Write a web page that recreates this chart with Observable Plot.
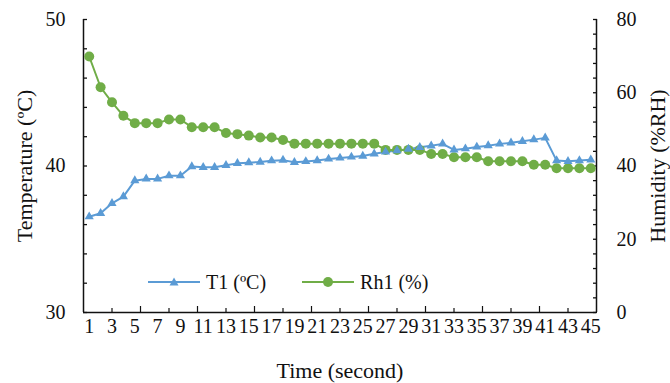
<!DOCTYPE html>
<html>
<head>
<meta charset="utf-8">
<script src="https://cdn.jsdelivr.net/npm/d3@7"></script>
<script src="https://cdn.jsdelivr.net/npm/@observablehq/plot@0.6"></script>
<style>
  html, body { margin: 0; padding: 0; background: #fff; }
  #wrap { position: relative; width: 670px; height: 383px; font-family: "Liberation Serif", "Times New Roman", serif; color: #111; }
  #legend { position: absolute; left: 148px; top: 270px; display: flex; align-items: center; font-size: 20px; line-height: 24px; white-space: nowrap; }
  #legend .item { display: flex; align-items: center; }
  #legend .item + .item { margin-left: 36px; }
  #legend svg { display: block; margin-right: 6px; }
</style>
</head>
<body>
<div id="wrap">
  <div id="chart"></div>
  <div id="legend"></div>
</div>
<script>
// Categories (time in seconds)
const time = [1,2,3,4,5,6,7,8,9,10,11,12,13,14,15,16,17,18,19,20,21,22,23,24,25,26,27,28,29,30,31,32,33,34,35,36,37,38,39,40,41,42,43,44,45];
// T1 (°C), left axis
const t1 = [36.54,36.77,37.45,37.91,39.0,39.12,39.12,39.34,39.34,39.96,39.91,39.91,
            40.05,40.18,40.23,40.27,40.36,40.4,40.25,40.31,40.37,40.48,40.55,40.62,
            40.68,40.83,40.96,41.05,41.15,41.28,41.38,41.51,41.1,41.18,41.3,
            41.39,41.51,41.58,41.69,41.8,41.92,40.37,40.32,40.37,40.42];
// Rh1 (%), right axis
const rh1 = [69.9,61.5,57.4,53.7,51.7,51.7,51.7,52.7,52.7,50.6,50.6,50.6,
             49.0,48.7,48.3,47.8,47.8,47.1,46.1,46.1,46.1,46.1,46.1,46.1,46.1,46.1,
             44.4,44.4,44.4,44.4,43.3,43.3,42.4,42.4,42.4,
             41.3,41.3,41.3,41.3,40.35,40.35,39.4,39.4,39.4,39.4];

// Tick labels
const xTickLabels = [1,3,5,7,9,11,13,15,17,19,21,23,25,27,29,31,33,35,37,39,41,43,45];
const tempTickLabels = [30,40,50];
const rhTickLabels = [0,20,40,60,80];
const tempTickMarks = [30,32,34,36,38,40,42,44,46,48,50];
const rhTickMarks = [0,4,8,12,16,20,24,28,32,36,40,44,48,52,56,60,64,68,72,76,80];
const xMajorTicks = [5.5,10.5,15.5,20.5,25.5,30.5,35.5,40.5];
const xMinorTicks = [3,8,13,18,23,28,33,38,43];

const seriesNames = ["T1 (ºC)", "Rh1 (%)"];
const axisTitles = {left: "Temperature (ºC)", right: "Humidity (%RH)", bottom: "Time (second)"};
const colors = ["#5B9BD5", "#70AD47"];

// Humidity range [0,80] shares the frame with temperature [30,50]
const rhToT = rh => 30 + rh / 4;

const data = time.map((t, i) => ({time: t, t1: t1[i], rh1: rh1[i], rhT: rhToT(rh1[i])}));

const ink = "#111";
const font = "'Liberation Serif', 'Times New Roman', serif";

const chart = Plot.plot({
  width: 670,
  height: 383,
  marginLeft: 83,
  marginRight: 74,
  marginTop: 19,
  marginBottom: 71,
  x: {domain: [0.5, 45.5], axis: null, label: null},
  y: {domain: [30, 50], axis: null, label: null},
  style: {fontFamily: font, fontSize: "20px", color: ink, background: "#fff", overflow: "visible"},
  marks: [
    // inward tick marks
    Plot.axisY(tempTickMarks, {anchor: "left", label: null, tickSize: -4, tickFormat: () => "", stroke: ink, strokeWidth: 1.3}),
    Plot.axisY(rhTickMarks.map(rhToT), {anchor: "right", label: null, tickSize: -4, tickFormat: () => "", stroke: ink, strokeWidth: 1.3}),
    Plot.axisX(xMajorTicks, {anchor: "bottom", label: null, tickSize: -6, tickFormat: () => "", stroke: ink, strokeWidth: 1.2}),
    Plot.axisX(xMinorTicks, {anchor: "bottom", label: null, tickSize: -4, tickFormat: () => "", stroke: ink, strokeWidth: 1.2}),
    // tick labels
    Plot.axisY(tempTickLabels, {anchor: "left", label: null, tickSize: 0, tickPadding: 18, fontSize: 20, fill: ink}),
    Plot.axisY(rhTickLabels.map(rhToT), {anchor: "right", label: null, tickSize: 0, tickPadding: 20, fontSize: 20, fill: ink,
      tickFormat: d => String(Math.round((d - 30) * 4))}),
    Plot.axisX(xTickLabels, {anchor: "bottom", label: null, tickSize: 0, tickPadding: 6, fontSize: 20, fill: ink}),
    // spines
    Plot.ruleX([0.5, 45.5], {stroke: ink, strokeWidth: 1.5}),
    Plot.ruleY([30], {stroke: ink, strokeWidth: 1.5}),
    // series
    Plot.line(data, {x: "time", y: "t1", stroke: colors[0], strokeWidth: 2}),
    Plot.line(data, {x: "time", y: "rhT", stroke: colors[1], strokeWidth: 2}),
    Plot.dot(data, {x: "time", y: "rhT", r: 5, fill: colors[1], stroke: "none"}),
    Plot.dot(data, {x: "time", y: "t1", r: 3.4, symbol: "triangle", fill: colors[0], stroke: "none"}),
    // axis titles
    Plot.text([axisTitles.left], {frameAnchor: "left", dx: -59, rotate: -90, textAnchor: "middle", lineAnchor: "middle", fontSize: 22, fill: ink}),
    Plot.text([axisTitles.right], {frameAnchor: "right", dx: 61, rotate: -90, textAnchor: "middle", lineAnchor: "middle", fontSize: 22, fill: ink}),
    Plot.text([axisTitles.bottom], {frameAnchor: "bottom", dy: 58, textAnchor: "middle", lineAnchor: "middle", fontSize: 22, fill: ink})
  ]
});
document.getElementById("chart").appendChild(chart);

// Legend
const legend = document.getElementById("legend");
seriesNames.forEach((name, i) => {
  const item = document.createElement("div");
  item.className = "item";
  const marker = i === 0
    ? `<path d="M26,2.6 L30.5,10.4 L21.5,10.4 Z" fill="${colors[0]}"/>`
    : `<circle cx="26" cy="7" r="5" fill="${colors[1]}"/>`;
  item.innerHTML = `<svg width="52" height="14"><line x1="0" y1="7" x2="52" y2="7" stroke="${colors[i]}" stroke-width="2"/>${marker}</svg><span>${name}</span>`;
  legend.appendChild(item);
});
</script>
</body>
</html>
